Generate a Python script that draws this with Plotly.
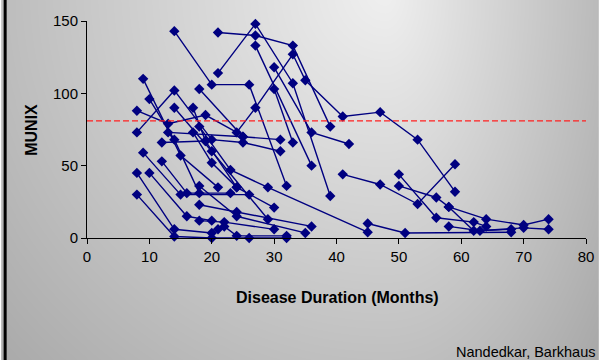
import zlib, struct, base64, math
import plotly.graph_objects as go

# ---- data: each list is one patient followed over time ----
months = [
    [14, 20, 26, 32],
    [21, 27, 33, 39],
    [21, 27, 33, 39],
    [8, 13, 19, 24, 27, 33, 35, 41, 47, 53, 59],
    [27, 36],
    [30, 36, 42],
    [30, 33],
    [41, 47, 53, 59],
    [50, 56, 58, 64, 70, 74],
    [50, 56, 62, 64],
    [58, 62, 68],
    [58, 63, 70, 74],
    [45, 51, 68],
    [18, 23, 29, 45],
    [9, 15, 21],
    [10, 14, 18],
    [8, 14, 20, 25, 31],
    [18, 25, 31],
    [9, 15, 26],
    [8, 14, 20],
    [10, 16, 20],
    [8, 14, 20, 26, 32],
    [12, 19],
    [12, 16, 23],
    [14, 20, 29],
    [17, 19, 24],
    [13, 25],
    [17, 20, 24, 30],
    [18, 24, 35],
    [18, 24, 36],
    [18, 22, 30],
    [21, 22, 24, 32],
]
munix_values = [
    [143, 106, 106, 36],
    [142, 140, 133, 77],
    [114, 148, 107, 29],
    [88, 79, 85, 73, 90, 127, 109, 84, 87, 68, 32],
    [133, 50],
    [118, 73, 65],
    [103, 66],
    [44, 37, 23.5, 51],
    [36, 28, 21.5, 13, 9, 13],
    [44, 14, 11, 8],
    [21.5, 5, 6],
    [8, 5, 7, 6],
    [10, 3.5, 4],
    [77, 47, 35, 4],
    [110, 57, 35],
    [96, 68, 31],
    [73, 102, 68, 66, 60],
    [103, 70, 68],
    [59, 30, 30],
    [45, 6, 3.5],
    [45, 15, 12],
    [30, 1, 0, 0, 0],
    [66, 67],
    [53, 31, 31],
    [90, 60, 13],
    [90, 67, 35],
    [73, 70],
    [73, 52, 35, 21],
    [36, 15, 3.5],
    [23, 18, 8],
    [12, 11, 6],
    [6, 8, 1.5, 1.5],
]
threshold = 81
x_ticks = [0, 10, 20, 30, 40, 50, 60, 70, 80]
y_ticks = [0, 50, 100, 150]

# ---- background gradient image ----
W, H = 606, 360
def shade(x, y):
    cx, cy = 390, -10
    dx = (x - cx) * (1.0 if x < cx else 1.9)
    dy = (y - cy)
    d = math.sqrt(dx * dx + dy * dy)
    v = 240 - 0.13 * d
    return max(150, min(245, int(v)))

raw = b''.join(b'\x00' + bytes(shade(x, y) for x in range(W)) for y in range(H))
def chunk(t, d):
    c = struct.pack('>I', len(d)) + t + d
    return c + struct.pack('>I', zlib.crc32(t + d) & 0xffffffff)
png = (b'\x89PNG\r\n\x1a\n' + chunk(b'IHDR', struct.pack('>IIBBBBB', W, H, 8, 0, 0, 0, 0))
       + chunk(b'IDAT', zlib.compress(raw)) + chunk(b'IEND', b''))
src = 'data:image/png;base64,' + base64.b64encode(png).decode()

L, R, T, B = 87, 13, 21, 122
pw, ph = W - L - R, H - T - B

fig = go.Figure()
navy = '#000080'
for xs, ys in zip(months, munix_values):
    fig.add_trace(go.Scatter(x=xs, y=ys, mode='lines+markers',
                             line=dict(color=navy, width=1.4),
                             marker=dict(symbol='diamond', size=8, color=navy),
                             showlegend=False, hoverinfo='skip', cliponaxis=False))

fig.add_shape(type='line', xref='paper', yref='y', x0=0, x1=1, y0=threshold, y1=threshold,
              line=dict(color='#ff2020', width=1.3, dash='6px,3px'))
# left frame edge
fig.add_shape(type='line', xref='paper', yref='paper', x0=-(L - 4) / pw, x1=-(L - 4) / pw,
              y0=-B / ph, y1=1 + T / ph, line=dict(color='#000000', width=3))

fig.add_layout_image(dict(source=src, xref='paper', yref='paper', x=-L / pw, y=1 + T / ph,
                          sizex=W / pw, sizey=H / ph, sizing='stretch', layer='below',
                          xanchor='left', yanchor='top'))

font = 'Liberation Sans, Arial, sans-serif'
fig.update_layout(
    width=W, height=H, margin=dict(l=L, r=R, t=T, b=B),
    paper_bgcolor='rgba(0,0,0,0)', plot_bgcolor='rgba(0,0,0,0)',
    font=dict(family=font, size=15, color='#000000'),
    xaxis=dict(range=[0, 80], tickvals=x_ticks, showgrid=False, zeroline=False,
               showline=True, linecolor='#000000', linewidth=1, ticks='outside',
               ticklen=5, tickcolor='#000000', tickfont=dict(size=15), fixedrange=True),
    yaxis=dict(range=[0, 150], tickvals=y_ticks, showgrid=False, zeroline=False,
               showline=True, linecolor='#000000', linewidth=1, ticks='outside',
               ticklen=5, tickcolor='#000000', tickfont=dict(size=15), fixedrange=True),
    annotations=[
        dict(text='<b>Disease Duration (Months)</b>', xref='paper', yref='paper',
             x=(341 - L) / pw, y=-(297 - 238) / ph, xanchor='center', yanchor='middle',
             showarrow=False, font=dict(size=16)),
        dict(text='<b>MUNIX</b>', xref='paper', yref='paper', textangle=-90,
             x=-(87 - 30) / pw, y=(238 - 130) / ph, xanchor='center', yanchor='middle',
             showarrow=False, font=dict(size=16)),
        dict(text='Nandedkar, Barkhaus', xref='paper', yref='paper',
             x=1 + (R - 2) / pw, y=-(352 - 238) / ph, xanchor='right', yanchor='middle',
             showarrow=False, font=dict(size=14.5)),
    ],
)
fig.write_html('out.html')
